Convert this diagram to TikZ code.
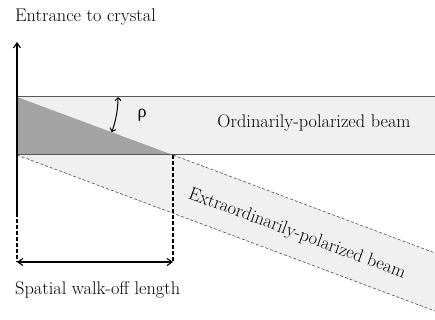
\documentclass[tikz,border=0pt]{standalone}
\usepackage{fontspec}
\newfontfamily\grk{Liberation Serif}
\usetikzlibrary{arrows.meta}
\begin{document}
\begin{tikzpicture}[x=1pt,y=-1pt,
  lbl/.style={inner sep=0pt,font=\fontsize{18.3}{20}\selectfont},
  beamline/.style={draw=black!65,line width=1pt},
  edashed/.style={draw=black!70,dashed,line width=0.6pt,dash pattern=on 3pt off 2pt},
  bdashed/.style={draw=black,line width=1.1pt,dash pattern=on 4pt off 2pt},
  axis/.style={draw=black,line width=1.1pt},
  mytip/.tip={Straight Barb[length=5pt,width=7pt]},
  smalltip/.tip={Straight Barb[length=3pt,width=6pt]}]
\useasboundingbox (0,0) rectangle (435,320);
\coordinate (A) at (17,97);
\coordinate (B) at (17,155);
\coordinate (C) at (173,155);
\coordinate (Ot) at (435,97);
\coordinate (Ob) at (435,155);
\coordinate (Et) at (435,253);
\coordinate (Eb) at (435,311);
\coordinate (axtop) at (17,42);
\coordinate (axmid) at (17,213);
\coordinate (axbot) at (17,262);
\coordinate (Cbot) at (173,262);
% fills
\fill[black!6] (A) rectangle (Ob);
\fill[black!6] (A) -- (Et) -- (Eb) -- (B) -- cycle;
\fill[black!36] (A) -- (C) -- (B) -- cycle;
% o-beam borders
\draw[beamline] (A) -- (Ot);
\draw[beamline] (B) -- (Ob);
% e-beam borders
\draw[edashed] (C) -- (Et);
\draw[edashed] (B) -- (Eb);
% axis
\draw[axis,-mytip] (axmid) -- (axtop);
\draw[bdashed] (axmid) -- (axbot);
\draw[bdashed] (C) -- (Cbot);
\draw[line width=1.1pt,mytip-mytip] (axbot) -- (Cbot);
% rho arc
\draw[line width=1pt,smalltip-smalltip] ([xshift=101pt]A) arc[start angle=0,end angle=-20.4,radius=101pt];
% labels
\node[lbl,font=\fontsize{18}{20}\grk] (rho) at (142,115) {ρ};
\node[lbl,anchor=west] (ent) at (15,17) {Entrance to crystal};
\node[lbl] (ob) at (314,123) {Ordinarily-polarized beam};
\node[lbl,rotate=-20.4] (eb) at (297,234) {Extraordinarily-polarized beam};
\node[lbl,anchor=west] (sw) at (15,290) {Spatial walk-off length};
\end{tikzpicture}
\end{document}
